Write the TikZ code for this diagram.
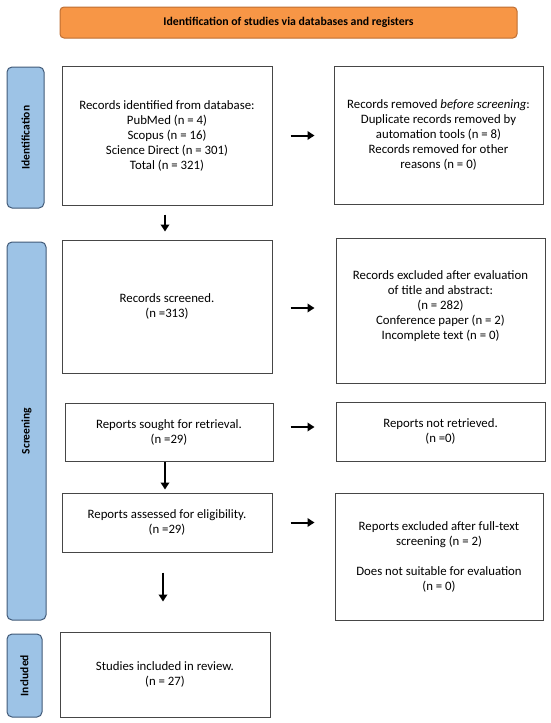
\documentclass[tikz,border=0pt]{standalone}
\usepackage{fontspec}
\setmainfont{Carlito}
\usetikzlibrary{arrows.meta,calc}
\definecolor{orfill}{RGB}{247,150,70}
\definecolor{ordraw}{RGB}{190,110,50}
\definecolor{blfill}{RGB}{157,195,230}
\definecolor{bldraw}{RGB}{65,90,120}
\definecolor{boxdraw}{RGB}{70,70,70}
\tikzset{
  x=1pt, y=-1pt,
  txt/.style={font=\fontsize{12.8}{15}\selectfont},
  flowbox/.style={draw=boxdraw, line width=1pt, fill=white, align=center,
    inner sep=2pt, txt},
  sidebox/.style={draw=bldraw, line width=1pt, fill=blfill, rounded corners=5pt},
  sidelabel/.style={rotate=90, font=\bfseries\fontsize{11.5}{13}\selectfont},
  arr/.style={line width=2pt, -{Triangle[length=7pt,width=8.5pt]}}
}
\begin{document}
\begin{tikzpicture}
\useasboundingbox (0,0) rectangle (550,723);
% header
\node[draw=ordraw, line width=1pt, fill=orfill, rounded corners=4pt,
  minimum width=457pt, minimum height=31pt, font=\bfseries\fontsize{11.8}{13}\selectfont]
  (head) at (288.5,22.5) {Identification of studies via databases and registers};
% side bars
\node[sidebox, minimum width=37pt, minimum height=141pt] (sid) at (25.5,137.5) {};
\node[sidelabel] (sidl) at (sid) {Identification};
\node[sidebox, minimum width=39pt, minimum height=378pt] (sscr) at (26.5,431) {};
\node[sidelabel] (sscrl) at (sscr) {Screening};
\node[sidebox, minimum width=35pt, minimum height=83pt] (sinc) at (24.5,675.5) {};
\node[sidelabel] (sincl) at (sinc) {Included};
% left column
\node[flowbox, minimum width=210pt, minimum height=139pt] (b1) at (167,135.5)
  {Records identified from database:\\PubMed (n = 4)\\Scopus (n = 16)\\Science Direct (n = 301)\\Total (n = 321)};
\node[flowbox, minimum width=210pt, minimum height=133pt] (b2) at (167,306.5)
  {Records screened.\\(n =313)};
\node[flowbox, minimum width=208pt, minimum height=58pt] (b3) at (169,432)
  {Reports sought for retrieval.\\(n =29)};
\node[flowbox, minimum width=210pt, minimum height=59pt] (b4) at (167,522.5)
  {Reports assessed for eligibility.\\(n =29)};
\node[flowbox, minimum width=210pt, minimum height=85pt] (b5) at (165,674.5)
  {Studies included in review.\\(n = 27)};
% right column
\node[flowbox, minimum width=209pt, minimum height=138pt] (r1) at (438.5,135)
  {Records removed \textit{before screening}:\\Duplicate records removed by\\automation tools (n = 8)\\Records removed for other\\reasons (n = 0)};
\node[flowbox, minimum width=209pt, minimum height=145pt] (r2) at (440.5,310.5) {};
\node[align=center, txt] (r2t) at (440.5,306)
  {Records excluded after evaluation\\of title and abstract:\\(n = 282)\\Conference paper (n = 2)\\Incomplete text (n = 0)};
\node[flowbox, minimum width=209pt, minimum height=59pt] (r3) at (440.5,431.5)
  {Reports not retrieved.\\(n =0)};
\node[flowbox, minimum width=208pt, minimum height=127pt] (r4) at (439,556.5)
  {Reports excluded after full-text\\screening (n = 2)\\[15pt]Does not suitable for evaluation\\(n = 0)};
% arrows
\draw[arr, shorten <=9pt, shorten >=8pt] ([xshift=-2pt]b1.south) -- ([xshift=-2pt]b1.south |- b2.north);
\draw[arr, shorten <=0pt, shorten >=3pt] ([xshift=-4pt]b3.south) -- ([xshift=-4pt]b3.south |- b4.north);
\draw[arr, shorten <=20pt, shorten >=30pt] ([xshift=-4pt]b4.south) -- ([xshift=-4pt]b4.south |- b5.north);
\draw[arr, shorten <=18pt, shorten >=19pt] (b1.east) -- (b1.east -| r1.west);
\draw[arr, shorten <=18pt, shorten >=21pt] ([yshift=-1.5pt]b2.east) -- ([yshift=-1.5pt]b2.east -| r2.west);
\draw[arr, shorten <=17pt, shorten >=21pt] ([yshift=5pt]b3.east) -- ([yshift=5pt]b3.east -| r3.west);
\draw[arr, shorten <=18pt, shorten >=20pt] (b4.east) -- (b4.east -| r4.west);
\end{tikzpicture}
\end{document}
